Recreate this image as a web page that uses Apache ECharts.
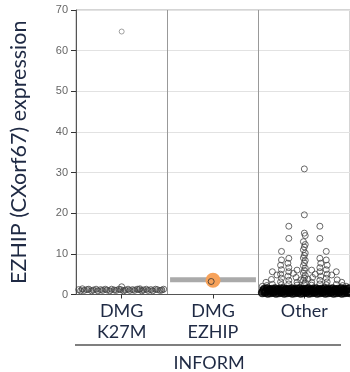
<!DOCTYPE html>
<html><head><meta charset="utf-8">
<script src="https://cdn.jsdelivr.net/npm/echarts@6/dist/echarts.min.js"></script>
<style>html,body{margin:0;padding:0;background:#fff}#c{width:350px;height:372px}</style>
</head><body><div id="c"></div>
<script>
// ---- data ----
var categories = ['DMG\nK27M', 'DMG\nEZHIP', 'Other'];
var yTicks = [0, 10, 20, 30, 40, 50, 60, 70];
var medians = [1.1, 3.6, 0.9];
// [jitter offset within panel, expression]
var k27mPoints = [[-0.47,1.2],[-0.45,0.9],[-0.43,1.4],[-0.41,1.0],[-0.38,1.2],[-0.36,1.3],[-0.33,0.9],[-0.31,1.1],[-0.28,1.3],[-0.26,0.9],[-0.23,1.2],[-0.21,1.0],[-0.18,1.3],[-0.16,1.1],[-0.13,0.9],[-0.11,1.3],[-0.08,1.1],[-0.06,1.0],[-0.03,1.3],[-0.01,1.2],[0.0,1.9],[0.02,0.9],[0.04,1.1],[0.07,1.3],[0.09,1.0],[0.12,1.2],[0.14,1.0],[0.17,1.3],[0.19,1.2],[0.2,1.4],[0.22,0.9],[0.24,1.1],[0.27,1.3],[0.29,1.0],[0.32,1.2],[0.34,0.9],[0.37,1.3],[0.39,1.2],[0.42,1.0],[0.44,1.1],[0.46,1.3],[0.0,64.7]];
var ezhipPoints = [[-0.02,3.2]];
var ezhipHighlight = [[0.0,3.5]];
var otherPoints = [[0,30.9],[0,19.6],[-0.17,16.8],[0.17,16.8],[-0.17,13.8],[0.17,13.8],
 [0,15.1],[0.01,14.5],[-0.01,13.0],[0.01,12.3],[0,11.7],[-0.01,11.0],[0.01,10.2],[0,9.6],[-0.01,9.0],[0.01,8.4],[0,7.8],[-0.01,7.1],[0.01,6.5],[0,5.9],[-0.01,5.3],[0.01,4.7],[0,4.1],[-0.01,3.5],[0.01,2.9],[0,2.4],
 [-0.25,10.6],[-0.25,8.5],[-0.26,7.2],[-0.25,6.1],[-0.26,5.0],[-0.25,4.0],[-0.26,3.1],[-0.25,2.4],
 [0.24,10.6],[0.24,8.5],[0.25,7.2],[0.24,6.1],[0.25,5.0],[0.24,4.0],[0.25,3.1],[0.24,2.4],
 [-0.17,8.9],[-0.18,7.7],[-0.17,6.6],[-0.17,5.6],[-0.18,4.5],[-0.17,3.5],[-0.17,2.6],
 [0.17,8.9],[0.18,7.7],[0.17,6.6],[0.17,5.6],[0.18,4.5],[0.17,3.5],[0.17,2.6],
 [-0.35,5.6],[-0.36,3.7],[-0.35,2.5],[0.35,5.6],[0.36,3.6],[0.35,2.5],
 [-0.42,3.0],[-0.41,2.2],[0.41,3.0],[0.42,2.2],
 [-0.08,6.0],[-0.09,4.2],[-0.08,3.0],[-0.08,2.3],[0.08,6.0],[0.09,4.2],[0.08,3.0],[0.08,2.3],
 [-0.46,2.0],[0.46,2.0],[-0.3,4.8],[0.3,4.8],[-0.12,5.2],[0.12,5.0],[-0.04,3.6],[0.04,3.8]];
var otherBand = [
 [-0.46,0.4],[-0.43,0.5],[-0.40,0.3],[-0.37,0.4],[-0.34,0.5],[-0.31,0.3],[-0.28,0.4],[-0.25,0.5],[-0.22,0.3],[-0.19,0.4],[-0.16,0.5],[-0.13,0.3],[-0.10,0.4],[-0.07,0.5],[-0.04,0.3],[-0.01,0.4],[0.02,0.5],[0.05,0.3],[0.08,0.4],[0.11,0.5],[0.14,0.3],[0.17,0.4],[0.20,0.5],[0.23,0.3],[0.26,0.4],[0.29,0.5],[0.32,0.3],[0.35,0.4],[0.38,0.5],[0.41,0.3],[0.44,0.4],[0.47,0.5],[0.50,0.4],
 [-0.45,0.9],[-0.42,0.8],[-0.39,1.0],[-0.36,0.9],[-0.33,0.8],[-0.30,1.0],[-0.27,0.9],[-0.24,0.8],[-0.21,1.0],[-0.18,0.9],[-0.15,0.8],[-0.12,1.0],[-0.09,0.9],[-0.06,0.8],[-0.03,1.0],[0.00,0.9],[0.03,0.8],[0.06,1.0],[0.09,0.9],[0.12,0.8],[0.15,1.0],[0.18,0.9],[0.21,0.8],[0.24,1.0],[0.27,0.9],[0.30,0.8],[0.33,1.0],[0.36,0.9],[0.39,0.8],[0.42,1.0],[0.45,0.9],[0.48,0.8],
 [-0.44,1.3],[-0.41,1.4],[-0.38,1.2],[-0.35,1.3],[-0.32,1.4],[-0.29,1.2],[-0.26,1.3],[-0.23,1.4],[-0.20,1.2],[-0.17,1.3],[-0.14,1.4],[-0.11,1.2],[-0.08,1.3],[-0.05,1.4],[-0.02,1.2],[0.01,1.3],[0.04,1.4],[0.07,1.2],[0.10,1.3],[0.13,1.4],[0.16,1.2],[0.19,1.3],[0.22,1.4],[0.25,1.2],[0.28,1.3],[0.31,1.4],[0.34,1.2],[0.37,1.3],[0.40,1.4],[0.43,1.2],[0.46,1.3],[0.49,1.4]];

// ---- helpers ----
function place(points, idx) { return points.map(function (p) { return [idx + 0.5 + p[0], p[1]]; }); }
var medianSeries = medians.map(function (m, i) {
  return { type: 'line', xAxisIndex: 0, data: [[i + 0.03, m], [i + 0.97, m]], symbol: 'none',
    lineStyle: { color: '#aaaaaa', width: 5 }, z: 1, silent: true };
});
var hollow = function (data, color, size, z) {
  return { type: 'scatter', xAxisIndex: 0, data: data, symbol: 'circle', symbolSize: size,
    itemStyle: { color: 'rgba(255,255,255,0)', borderColor: color, borderWidth: 1 }, z: z };
};
var font = 'Lato, "Open Sans", sans-serif';
var navy = '#1F2A44';

var chart = echarts.init(document.getElementById('c'), null, { renderer: 'canvas' });
chart.setOption({
  animation: false,
  grid: { left: 67, top: 10, width: 283, height: 284.5, show: true, borderColor: '#aaaaaa', borderWidth: 1, backgroundColor: 'transparent' },
  xAxis: [
    { type: 'value', min: 0, max: 3, interval: 1, position: 'bottom',
      axisLine: { show: false }, axisTick: { show: false }, axisLabel: { show: false },
      splitLine: { show: true, lineStyle: { color: '#999999', width: 1 } } },
    { type: 'category', data: categories, position: 'bottom', boundaryGap: true,
      axisLine: { show: true, lineStyle: { color: '#555555', width: 1 } },
      axisTick: { show: true, alignWithLabel: true, length: 4, lineStyle: { color: '#333333' } },
      axisLabel: { color: navy, fontSize: 18, fontFamily: font, lineHeight: 21, margin: 6 },
      splitLine: { show: false } }
  ],
  yAxis: {
    type: 'value', min: yTicks[0], max: yTicks[yTicks.length - 1], interval: yTicks[1] - yTicks[0],
    name: 'EZHIP (CXorf67) expression', nameLocation: 'middle', nameGap: 46, nameRotate: 90,
    nameTextStyle: { color: navy, fontSize: 21.5, fontFamily: font },
    axisLine: { show: true, lineStyle: { color: '#555555', width: 1 } },
    axisTick: { show: true, length: 5, lineStyle: { color: '#333333' } },
    axisLabel: { color: '#666666', fontSize: 11, fontFamily: 'Liberation Sans, Arial, sans-serif', margin: 8 },
    splitLine: { show: true, lineStyle: { color: '#e2e2e2', width: 1 } }
  },
  series: medianSeries.concat([
    hollow(place(k27mPoints.slice(0, -1), 0), '#444444', 6, 3),
    hollow(place(k27mPoints.slice(-1), 0), '#888888', 5, 3),
    { type: 'scatter', xAxisIndex: 0, data: place(ezhipHighlight, 1), symbolSize: 15,
      itemStyle: { color: '#F7A25A', opacity: 1 }, z: 2 },
    hollow(place(ezhipPoints, 1), '#333333', 6, 4),
    hollow(place(otherPoints, 2), '#444444', 6, 3),
    { type: 'scatter', xAxisIndex: 0, data: place(otherBand, 2), symbolSize: 7,
      itemStyle: { color: 'rgba(255,255,255,0)', borderColor: '#000000', borderWidth: 2 }, z: 3 }
  ]),
  graphic: [
    { type: 'line', shape: { x1: 75, y1: 345, x2: 341, y2: 345 }, style: { stroke: '#7f7f7f', lineWidth: 2 } },
    { type: 'text', x: 209, y: 363, style: { text: 'INFORM', fill: navy, font: '18px ' + font, textAlign: 'center', textVerticalAlign: 'middle' } }
  ]
});
</script></body></html>
